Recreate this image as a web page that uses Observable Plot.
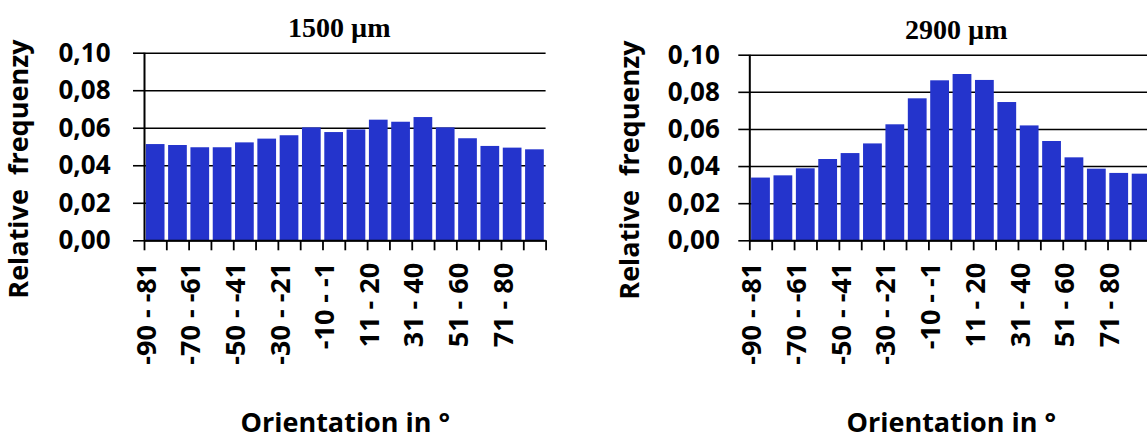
<!DOCTYPE html>
<html><head><meta charset="utf-8">
<script src="https://cdn.jsdelivr.net/npm/d3@7"></script>
<script src="https://cdn.jsdelivr.net/npm/@observablehq/plot@0.6"></script>
<style>
html,body{margin:0;padding:0;background:#fff;overflow:hidden;width:1147px;height:442px;}
#wrap{position:relative;width:1147px;height:442px;overflow:hidden;}
.panel{position:absolute;top:0;}
</style></head><body><div id="wrap"></div>
<script>
const categories = ["-90 - -81","-80 - -71","-70 - -61","-60 - -51","-50 - -41","-40 - -31","-30 - -21","-20 - -11","-10 - -1","1 - 10","11 - 20","21 - 30","31 - 40","41 - 50","51 - 60","61 - 70","71 - 80","81 - 90"];
const freq1500 = [0.0513,0.0508,0.0496,0.0496,0.0522,0.0542,0.0560,0.0602,0.0577,0.0591,0.0643,0.0632,0.0657,0.0602,0.0544,0.0503,0.0494,0.0485];
const freq2900 = [0.0338,0.0350,0.0388,0.0438,0.0470,0.0522,0.0625,0.0765,0.0862,0.0896,0.0864,0.0745,0.0619,0.0535,0.0447,0.0386,0.0363,0.0359];
const yTicks = [0, 0.02, 0.04, 0.06, 0.08, 0.10];
const panelTitles = ["1500 µm", "2900 µm"];
const yLabel = "Relative\u00a0 frequenzy";
const xLabel = "Orientation in °";

const SANS = "'Open Sans', 'DejaVu Sans', sans-serif";
const SERIF = "'Liberation Serif', 'Times New Roman', serif";
const BAR = "#2434CC";

function panel(values, title, cfg) {
  const n = categories.length;
  const data = values.map((v, i) => ({i, v, cat: categories[i]}));
  const shown = data.filter(d => d.i % 2 === 0);
  const bottom = 240.3;
  const chart = Plot.plot({
    width: cfg.width, height: 442,
    marginLeft: cfg.marginLeft, marginRight: cfg.marginRight,
    marginTop: cfg.marginTop, marginBottom: 442 - bottom,
    x: {domain: [0, n], axis: null, label: null},
    y: {domain: [0, 0.1], axis: null, label: null},
    style: {fontFamily: SANS, fontWeight: "bold", color: "#000", background: "transparent", overflow: "visible"},
    marks: [
      Plot.ruleY(yTicks, {stroke: "#000", strokeWidth: 1.6}),
      Plot.rectY(data, {x1: "i", x2: d => d.i + 1, y: "v", fill: BAR, insetLeft: 1.8, insetRight: 1.8}),
      Plot.ruleY([0], {stroke: "#000", strokeWidth: 2}),
      Plot.ruleX([0], {stroke: "#000", strokeWidth: 2}),
      Plot.axisY(yTicks, {anchor: "left", label: null, tickSize: 11, tickPadding: cfg.yPad, stroke: "#000", strokeWidth: 1.6,
        tickFormat: d => d.toFixed(2).replace(".", ","), fontSize: 26, fontWeight: "bold", fill: "#000"}),
      Plot.axisX(d3.range(n + 1), {anchor: "bottom", label: null, tickSize: 10, stroke: "#000", strokeWidth: 1.8, tickFormat: () => ""}),
      Plot.text(shown, {x: d => d.i + 0.5, text: "cat", frameAnchor: "bottom", rotate: -90, textAnchor: "end",
        dy: 22, fontSize: 27, fontWeight: "bold", fill: "#000"}),
      Plot.text([title], {frameAnchor: "top", lineAnchor: "bottom", textAnchor: "middle", dy: -16, dx: cfg.titleDx,
        fontFamily: SERIF, fontSize: 28, fontWeight: "bold", fill: "#000"}),
      Plot.text([yLabel], {frameAnchor: "left", rotate: -90, textAnchor: "middle", lineAnchor: "middle", dx: cfg.yTitleDx, dy: 22,
        fontSize: 27, fontWeight: "bold", fill: "#000"}),
      Plot.text([xLabel], {frameAnchor: "bottom", lineAnchor: "bottom", textAnchor: "middle", dy: 191,
        fontSize: 27, fontWeight: "bold", fill: "#000"})
    ]
  });
  chart.classList.add("panel");
  chart.style.left = cfg.left + "px";
  return chart;
}

const wrap = document.getElementById("wrap");
wrap.appendChild(panel(freq1500, panelTitles[0], {left: 0, width: 573, marginLeft: 144, marginRight: 27.4, marginTop: 52.7, yPad: 23, yTitleDx: -125, titleDx: -6}));
wrap.appendChild(panel(freq2900, panelTitles[1], {left: 590, width: 600, marginLeft: 159.3, marginRight: 37.7, marginTop: 54.7, yPad: 19, yTitleDx: -119, titleDx: 5}));
</script></body></html>
